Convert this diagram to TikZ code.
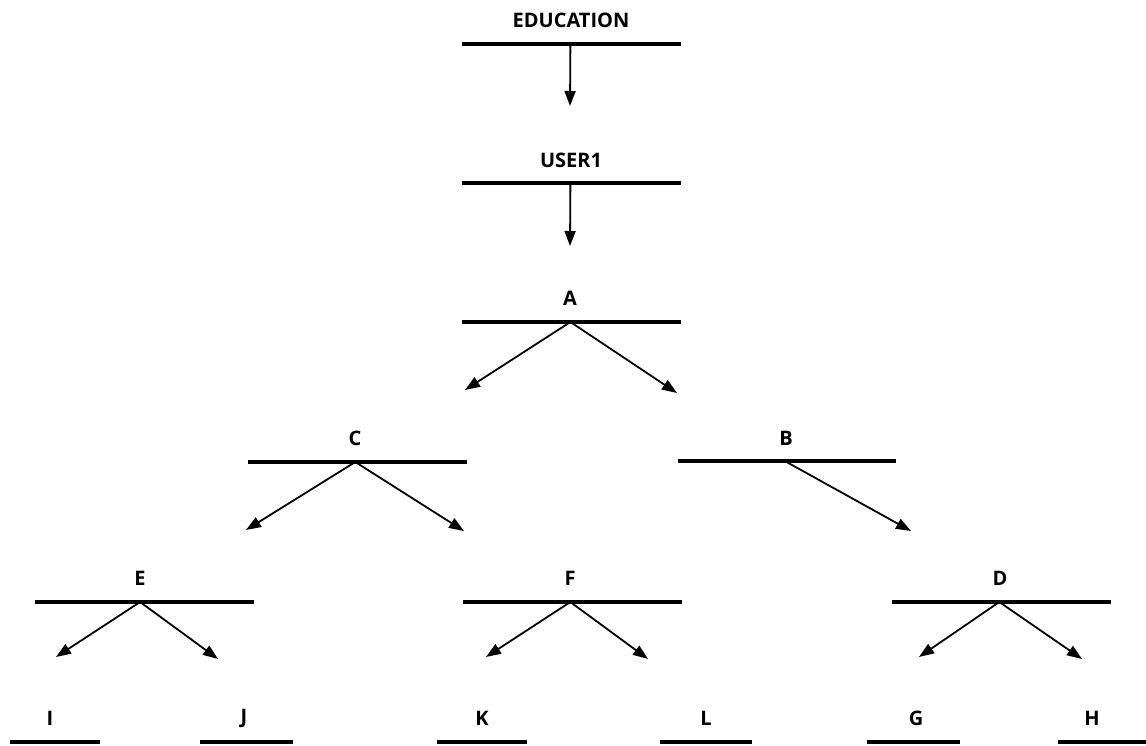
\documentclass[tikz,border=0pt]{standalone}
\usepackage{fontspec}
\setmainfont{Open Sans}
\usetikzlibrary{arrows.meta,calc}

\tikzset{
  bar/.style={line width=4pt},
  link/.style={line width=1.8pt, -{Triangle[length=15pt,width=11pt]}},
  lbl/.style={font=\fontsize{20}{24}\selectfont\bfseries, inner sep=0pt}
}

\begin{document}
\begin{tikzpicture}[x=1pt, y={(0,-1pt)}]
   \useasboundingbox (0,0) rectangle (1146,746);

   % level 0 and 1
   \node[lbl] (education) at (571,20) {EDUCATION};
   \coordinate (edu0) at (462,44);  \coordinate (edu1) at (681,44);
   \node[lbl] (user1) at (571,160) {USER1};
   \coordinate (usr0) at (462,183); \coordinate (usr1) at (681,183);

   % A
   \node[lbl] (a) at (570,298) {A};
   \coordinate (a0) at (462,322); \coordinate (a1) at (681,322);
   % C and B
   \node[lbl] (c) at (355,438) {C};
   \coordinate (c0) at (248,462); \coordinate (c1) at (467,462);
   \node[lbl] (b) at (786,438) {B};
   \coordinate (b0) at (678,461); \coordinate (b1) at (896,461);
   % E, F, D
   \node[lbl] (e) at (140,578) {E};
   \coordinate (e0) at (35,602);  \coordinate (e1) at (254,602);
   \node[lbl] (f) at (570,578) {F};
   \coordinate (f0) at (463,602); \coordinate (f1) at (682,602);
   \node[lbl] (d) at (1000,578) {D};
   \coordinate (d0) at (892,602); \coordinate (d1) at (1111,602);

   % leaves
   \node[lbl] (i) at (50,718)   {I};
   \node[lbl] (j) at (244,718)  {J};
   \node[lbl] (k) at (482,718)  {K};
   \node[lbl] (l) at (706,718)  {L};
   \node[lbl] (g) at (916,718)  {G};
   \node[lbl] (h) at (1092,718) {H};
   \coordinate (i0) at (10,742);   \coordinate (i1) at (100,742);
   \coordinate (j0) at (200,742);  \coordinate (j1) at (293,742);
   \coordinate (k0) at (437,742);  \coordinate (k1) at (527,742);
   \coordinate (l0) at (660,742);  \coordinate (l1) at (752,742);
   \coordinate (g0) at (867,742);  \coordinate (g1) at (960,742);
   \coordinate (h0) at (1058,742); \coordinate (h1) at (1146,742);

   % bars
   \foreach \n in {edu,usr,a,c,b,e,f,d,i,j,k,l,g,h}
      \draw[bar] (\n0) -- (\n1);

   % arrow ends
   \coordinate (t1) at (570,106);
   \coordinate (t2) at (570,246);
   \coordinate (ta1) at (465,390); \coordinate (ta2) at (677,393);
   \coordinate (tc1) at (246,530); \coordinate (tc2) at (464,531);
   \coordinate (tb2) at (911,531);
   \coordinate (te1) at (56,657);  \coordinate (te2) at (218,659);
   \coordinate (tf1) at (486,657); \coordinate (tf2) at (648,659);
   \coordinate (td1) at (919,657); \coordinate (td2) at (1082,659);

   \draw[link] ($(edu0)!0.495!(edu1)$) -- (t1);
   \draw[link] ($(usr0)!0.495!(usr1)$) -- (t2);
   \draw[link] ($(a0)!0.495!(a1)$) -- (ta1);
   \draw[link] ($(a0)!0.495!(a1)$) -- (ta2);
   \draw[link] ($(c0)!0.49!(c1)$) -- (tc1);
   \draw[link] ($(c0)!0.49!(c1)$) -- (tc2);
   \draw[link] ($(b0)!0.49!(b1)$) -- (tb2);
   \draw[link] ($(e0)!0.48!(e1)$) -- (te1);
   \draw[link] ($(e0)!0.48!(e1)$) -- (te2);
   \draw[link] ($(f0)!0.49!(f1)$) -- (tf1);
   \draw[link] ($(f0)!0.49!(f1)$) -- (tf2);
   \draw[link] ($(d0)!0.49!(d1)$) -- (td1);
   \draw[link] ($(d0)!0.49!(d1)$) -- (td2);
\end{tikzpicture}
\end{document}
